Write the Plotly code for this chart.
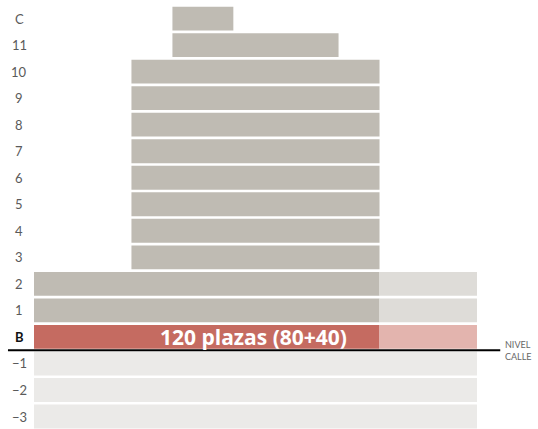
import plotly.graph_objects as go

# Floors from bottom to top
floors = ["−3", "−2", "−1", "B", "1", "2", "3", "4", "5", "6", "7", "8", "9", "10", "11", "C"]
# Occupied (built) extent per floor, in metres from left of lot
built_start = [0, 0, 0, 0, 0, 0, 8.8, 8.8, 8.8, 8.8, 8.8, 8.8, 8.8, 8.8, 12.5, 12.5]
built_end   = [40, 40, 40, 31.2, 31.2, 31.2, 31.2, 31.2, 31.2, 31.2, 31.2, 31.2, 31.2, 31.2, 27.5, 18.0]
# Rest of the lot (open part) per floor
lot_end     = [40, 40, 40, 40, 40, 40, None, None, None, None, None, None, None, None, None, None]
kind        = ["sotano", "sotano", "sotano", "parking", "planta", "planta", "planta", "planta",
               "planta", "planta", "planta", "planta", "planta", "planta", "planta", "planta"]
parking_label = "120 plazas (80+40)"

col_built = {"sotano": "#ebeae8", "parking": "#c56b61", "planta": "#bfbbb3"}
col_open = {"parking": "#e3b4ae", "planta": "#dedcd8"}

ypos = list(range(len(floors)))

fig = go.Figure()
for k in ["sotano", "parking", "planta"]:
    idx = [i for i in ypos if kind[i] == k]
    fig.add_trace(go.Bar(
        orientation="h",
        y=[ypos[i] for i in idx],
        base=[built_start[i] for i in idx],
        x=[built_end[i] - built_start[i] for i in idx],
        marker=dict(color=col_built[k], line=dict(width=0)),
        width=0.9, showlegend=False, hoverinfo="skip"))
    idx2 = [i for i in idx if lot_end[i] is not None and lot_end[i] > built_end[i]]
    if idx2:
        fig.add_trace(go.Bar(
            orientation="h",
            y=[ypos[i] for i in idx2],
            base=[built_end[i] for i in idx2],
            x=[lot_end[i] - built_end[i] for i in idx2],
            marker=dict(color=col_open[k], line=dict(width=0)),
            width=0.9, showlegend=False, hoverinfo="skip"))

annotations = []
for i, f in enumerate(floors):
    if f == "B":
        txt = "<b>B</b>"
        color = "#111111"
    else:
        txt = f
        color = "#5a5a5a"
    annotations.append(dict(x=-1.35, y=i, text=txt, showarrow=False, xanchor="center",
                            yanchor="middle", font=dict(family="Lato", size=13, color=color)))

b_i = floors.index("B")
annotations.append(dict(x=19.8, y=b_i, text="<b>" + parking_label + "</b>", showarrow=False,
                        xanchor="center", yanchor="middle",
                        font=dict(family="Open Sans", size=21, color="white")))
annotations.append(dict(x=42.35, y=b_i - 0.5, text="NIVEL<br>CALLE", showarrow=False,
                        xanchor="left", yanchor="middle", align="left",
                        font=dict(family="Lato", size=9, color="#666666")))

fig.add_shape(type="line", x0=-2.35, x1=42.1, y0=b_i - 0.5, y1=b_i - 0.5,
              line=dict(color="black", width=2))

fig.update_layout(
    width=538, height=429,
    margin=dict(l=0, r=0, t=0, b=0),
    paper_bgcolor="white", plot_bgcolor="white",
    barmode="overlay",
    xaxis=dict(range=[-3.07, 45.51], visible=False, fixedrange=True),
    yaxis=dict(range=[-0.471, 15.70], visible=False, fixedrange=True),
    annotations=annotations,
)

fig.write_html("out.html", config={"displayModeBar": False},
               post_script="document.body.style.margin='0';document.body.style.overflow='hidden';")
